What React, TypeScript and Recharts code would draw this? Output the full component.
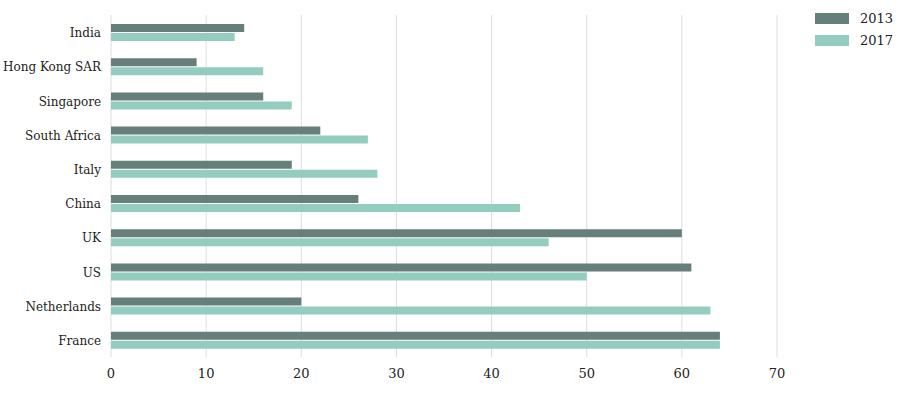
import { BarChart, Bar, XAxis, YAxis, CartesianGrid } from 'recharts';

const countries = ['India', 'Hong Kong SAR', 'Singapore', 'South Africa', 'Italy', 'China', 'UK', 'US', 'Netherlands', 'France'];
const values2013 = [14, 9, 16, 22, 19, 26, 60, 61, 20, 64];
const values2017 = [13, 16, 19, 27, 28, 43, 46, 50, 63, 64];
const xTicks = [0, 10, 20, 30, 40, 50, 60, 70];

const seriesList = [
  { key: 'y2013', label: '2013', color: '#667f7a' },
  { key: 'y2017', label: '2017', color: '#94cdbf' },
];

const data = countries.map((name, i) => ({ name, y2013: values2013[i], y2017: values2017[i] }));

const FONT = '"DejaVu Serif", serif';

// plain text tick so long names stay on one line
const CountryTick = (props: any) => {
  const { x, y, payload } = props;
  return (
    <text x={x} y={y} dy={5} textAnchor="end" fontSize={12} fill="#222" fontFamily={FONT}>
      {payload.value}
    </text>
  );
};

const LegendBox = () => (
  <div style={{ position: 'absolute', left: 815, top: 7, fontFamily: FONT, fontSize: 13, color: '#222' }}>
    {seriesList.map((s) => (
      <div key={s.key} style={{ display: 'flex', alignItems: 'center', height: 22 }}>
        <span style={{ display: 'inline-block', width: 34, height: 11, background: s.color, marginRight: 11 }} />
        <span>{s.label}</span>
      </div>
    ))}
  </div>
);

const App = () => {
  return (
    <div style={{ position: 'absolute', left: 0, top: 0, width: 915, height: 394, background: '#fff' }}>
      <BarChart
        width={915}
        height={394}
        data={data}
        layout="vertical"
        margin={{ top: 15, right: 138, left: 8, bottom: 7 }}
        barGap={1}
        barSize={8}
      >
        <CartesianGrid stroke="#dddddd" horizontal={false} />
        <XAxis
          type="number"
          domain={[0, 70]}
          ticks={xTicks}
          axisLine={false}
          tickLine={false}
          height={30}
          tick={{ fontSize: 13, fill: '#222', fontFamily: FONT }}
          tickMargin={6}
        />
        <YAxis
          type="category"
          dataKey="name"
          width={103}
          axisLine={false}
          tickLine={false}
          tickMargin={4}
          tick={<CountryTick />}
        />
        {seriesList.map((s) => (
          <Bar key={s.key} dataKey={s.key} name={s.label} fill={s.color} isAnimationActive={false} />
        ))}
      </BarChart>
      <LegendBox />
    </div>
  );
};

export default App;
